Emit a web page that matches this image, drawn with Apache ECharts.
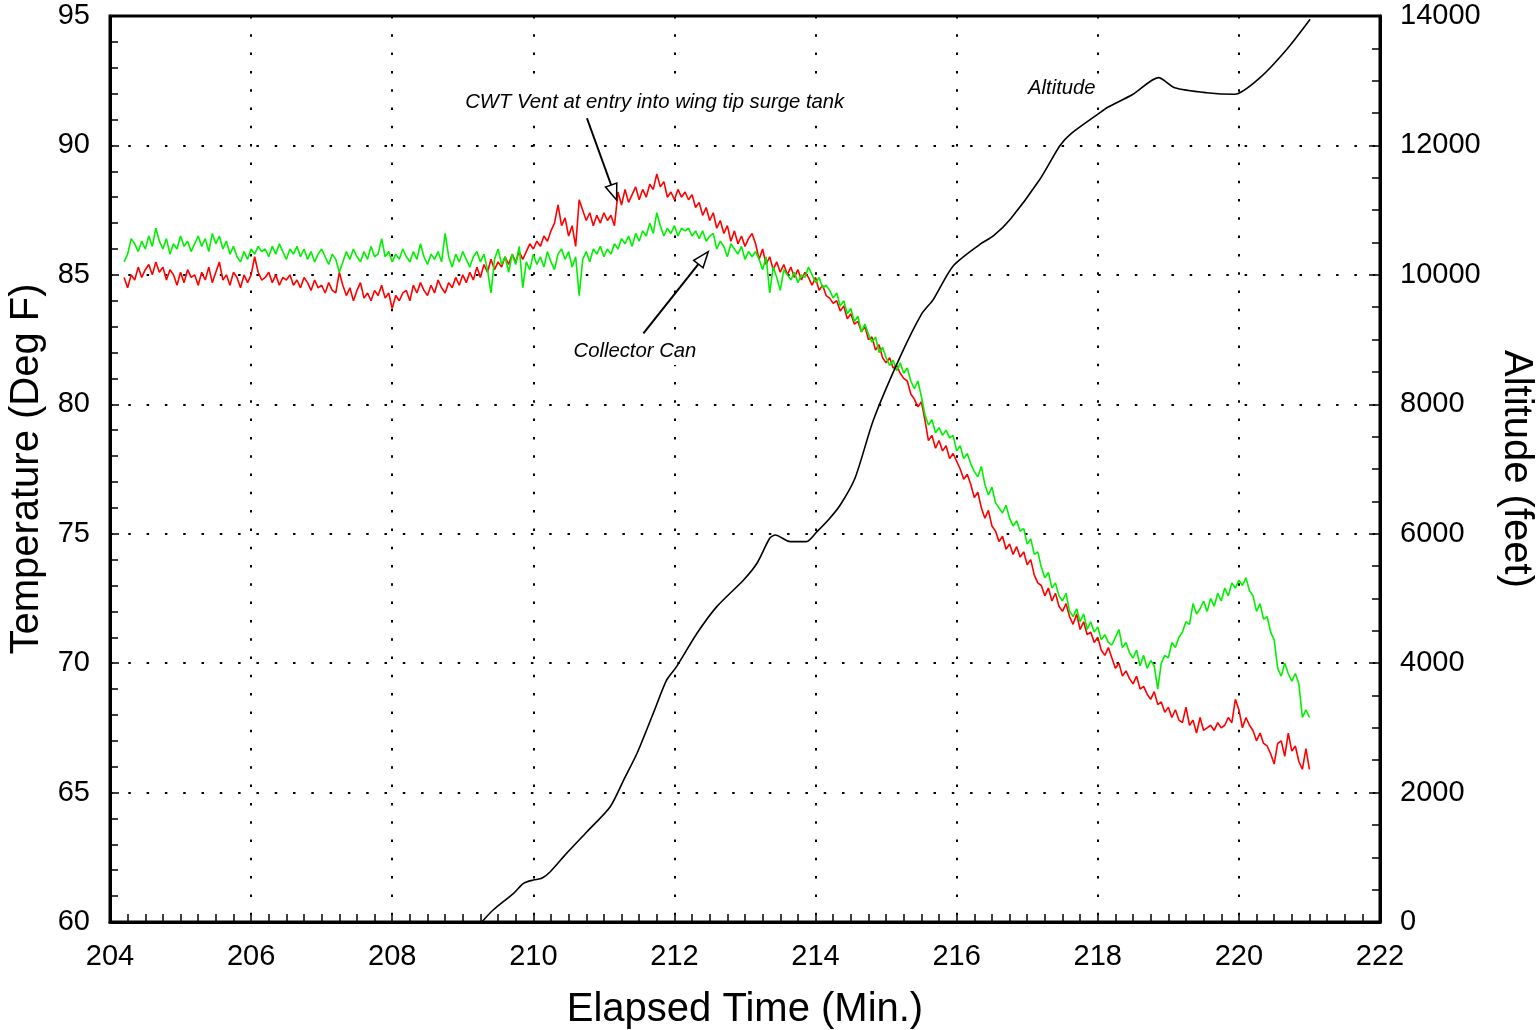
<!DOCTYPE html>
<html><head><meta charset="utf-8">
<script src="https://cdn.jsdelivr.net/npm/echarts@6/dist/echarts.min.js"></script>
<style>html,body{margin:0;padding:0;background:#fff}#c{width:1536px;height:1030px}</style>
</head><body><div id="c"></div>
<script>
// ---- data ----
// temperature samples every 0.05 min starting at 204.20 min
const sampleStart = 204.2;
const sampleStep = 0.05;

// CWT Vent at entry into wing tip surge tank (deg F), one row per minute
const cwtVent = [
  84.9,84.5,85.0,84.8,85.3,84.9,85.2,85.4,85.0,85.5,85.1,85.3,84.8,85.2,85.0,84.6,85.1,84.7,85.2,84.9,
  85.0,84.6,85.1,84.8,85.3,84.7,85.1,85.5,84.8,85.0,84.6,85.1,84.9,84.5,85.0,84.7,85.0,85.7,85.1,84.8,
  84.9,85.1,84.7,85.0,84.6,84.9,84.8,85.0,84.6,84.8,84.5,84.9,84.7,84.4,84.8,84.5,84.6,84.3,84.7,84.4,
  84.3,85.1,84.6,84.2,84.5,84.0,84.4,84.7,84.1,84.3,84.0,84.4,84.2,84.6,84.1,84.3,83.7,84.2,84.0,84.3,
  84.4,84.0,84.6,84.3,84.7,84.4,84.2,84.6,84.3,84.8,84.5,84.3,84.7,84.5,84.9,84.6,85.0,84.7,85.1,84.8,
  85.3,84.9,85.4,85.1,85.6,85.2,85.5,85.3,85.7,85.4,85.8,85.5,85.9,85.6,85.9,86.2,86.0,86.3,86.1,86.5,
  86.3,86.7,87.0,87.7,86.9,87.2,86.5,86.9,86.1,87.9,87.5,87.1,87.4,86.9,87.3,87.0,87.4,87.1,87.3,86.9,
  88.2,87.7,88.3,87.8,88.1,88.4,87.9,88.3,88.0,88.5,88.3,88.9,88.4,88.6,88.0,88.2,87.9,88.3,88.0,88.2,
  87.9,88.1,87.6,87.8,87.3,87.6,87.1,87.4,86.8,87.1,86.6,86.9,86.3,86.7,86.2,86.5,86.1,86.4,86.6,86.2,
  85.6,86.0,85.4,85.7,85.2,85.5,85.1,85.4,85.0,85.3,84.9,85.2,84.8,85.1,84.9,84.6,84.9,84.4,84.6,84.2,
  84.1,83.9,84.0,83.6,83.8,83.3,83.5,83.1,83.2,82.8,83.0,82.5,82.6,82.1,82.3,81.8,81.6,81.8,81.4,81.5,
  81.2,81.0,80.9,80.4,80.2,79.9,80.1,79.4,78.6,78.8,78.3,78.6,78.2,78.4,77.9,78.1,77.8,77.5,77.1,77.3,
  76.9,76.4,76.6,76.0,75.6,75.9,75.3,75.1,74.7,74.9,74.4,74.6,74.2,74.5,74.1,74.3,73.8,74.0,73.4,73.1,
  73.0,72.6,72.9,72.4,72.7,72.2,72.0,72.3,71.8,71.5,71.9,71.3,71.6,71.1,71.2,70.8,71.0,70.5,70.3,70.6,
  70.2,69.8,70.0,69.5,69.7,69.4,69.2,69.5,69.0,69.1,68.8,68.6,68.9,68.4,68.5,68.1,68.3,67.9,68.2,67.8,
  67.7,68.3,67.6,67.8,67.3,67.9,67.4,67.5,67.6,67.4,67.7,67.5,67.6,67.9,67.7,68.6,68.2,67.5,67.9,67.6,
  67.4,67.0,67.3,66.9,66.8,66.5,66.1,66.9,67.0,66.4,67.3,66.6,66.8,66.2,65.9,66.7,65.9
];

// Collector Can (deg F)
const collectorCan = [
  85.5,85.8,86.4,86.2,85.9,86.3,86.0,86.5,86.1,86.8,86.3,86.0,86.4,85.8,86.2,86.0,86.5,86.1,86.3,85.9,
  86.2,86.5,86.1,86.4,85.9,86.6,86.2,86.5,86.0,86.3,85.8,86.1,85.7,85.5,85.9,85.6,86.0,85.8,86.1,85.9,
  86.0,85.7,86.1,85.8,86.2,85.9,85.6,86.0,85.8,86.1,85.7,86.0,85.6,85.9,85.5,85.8,86.0,85.7,85.4,85.8,
  85.6,85.1,85.5,85.9,85.6,86.0,85.7,85.5,85.9,85.6,86.1,85.7,85.8,86.4,85.7,85.9,85.5,85.8,85.6,86.0,
  85.7,85.5,85.9,85.6,86.2,85.7,85.4,85.8,85.6,85.9,85.5,86.6,85.7,85.3,85.8,85.5,85.9,85.6,85.3,85.7,
  85.9,85.5,85.8,85.2,84.3,85.6,86.0,85.4,85.7,85.1,85.8,85.4,86.1,84.5,85.5,85.2,85.8,85.4,85.7,85.3,
  85.9,85.5,85.2,85.8,86.0,85.6,85.9,85.3,85.7,84.2,85.6,85.9,85.5,86.0,85.8,86.1,85.7,86.0,85.8,86.2,
  86.0,86.4,86.2,86.5,86.1,86.6,86.3,86.7,86.5,87.0,86.6,87.4,86.9,86.5,86.8,86.6,86.9,86.5,86.8,86.7,
  86.8,86.5,86.7,86.4,86.7,86.3,86.5,86.6,86.0,86.3,86.1,85.7,86.2,86.0,85.8,86.1,85.6,85.9,85.7,85.9,
  85.6,85.2,85.7,84.3,85.3,84.9,84.4,85.2,85.0,84.8,85.1,84.7,85.0,84.9,85.3,85.0,84.7,84.9,84.5,84.6,
  84.4,84.1,84.3,83.8,84.0,83.5,83.7,83.2,83.4,82.8,83.1,82.7,82.4,82.6,82.0,82.2,81.8,81.5,81.7,81.3,
  81.6,81.2,81.4,80.9,80.6,80.9,80.3,79.6,79.2,79.4,78.9,79.1,78.8,79.0,78.7,78.8,78.2,78.4,77.9,78.1,
  77.7,77.4,77.2,77.6,76.9,76.5,76.8,76.2,76.0,75.8,76.1,75.6,75.3,75.5,75.1,75.2,74.6,74.8,74.2,74.3,
  73.7,73.3,73.5,72.9,73.1,72.6,72.4,72.7,72.0,71.8,72.1,71.6,71.9,71.3,71.6,71.2,71.4,70.9,71.1,70.8,
  70.7,71.0,71.3,70.6,70.8,70.4,70.2,70.5,69.9,70.3,69.8,70.1,69.9,69.0,70.0,70.3,70.2,70.8,70.6,71.0,
  71.2,71.6,71.5,72.3,71.9,72.1,72.4,72.0,72.5,72.2,72.7,72.4,72.9,72.6,73.1,72.9,73.2,73.0,73.3,72.8,
  72.6,72.0,72.3,71.7,71.8,71.2,70.9,69.8,69.5,70.0,69.6,69.3,69.6,69.2,67.9,68.2,67.9
];

// Altitude (feet) vs elapsed time (min)
const altTime = [209.27,209.43,209.72,209.86,210.00,210.12,210.24,210.47,210.76,211.09,211.28,211.47,211.70,211.89,212.03,212.32,212.60,212.98,213.17,213.35,213.43,213.64,213.87,214.02,214.18,214.35,214.56,214.82,215.20,215.50,215.67,215.95,216.33,216.52,216.76,217.18,217.46,217.61,218.03,218.13,218.50,218.86,219.09,219.54,219.94,220.30,220.68,221.01];
const altitude = [0,185,443,598,649,675,777,1060,1395,1782,2194,2607,3225,3740,3946,4461,4873,5285,5543,5929,5980,5877,5877,6032,6212,6444,6861,7757,8736,9390,9622,10137,10472,10601,10859,11477,11992,12172,12506,12583,12790,13047,12892,12815,12790,13047,13485,13949];

// annotations (anchored in time / deg F)
const annotationTexts = ['CWT Vent at entry into wing tip surge tank', 'Collector Can', 'Altitude'];
const annotationAt = [[211.72, 91.68], [211.44, 82.06], [217.49, 92.22]];
const arrowFrom = [[210.76, 91.05], [211.56, 82.74]];
const arrowTo = [[211.18, 87.89], [212.48, 85.90]];

// ---- chart ----
const FONT = '"Liberation Sans", Arial, Helvetica, sans-serif';
const sampleTimes = cwtVent.map((_, i) => +(sampleStart + i * sampleStep).toFixed(2));
const pair = (xs, ys) => ys.map((v, i) => [xs[i], v]);

const chart = echarts.init(document.getElementById('c'), null, {renderer: 'canvas'});
const dotted = {color: '#000', width: 2, type: [2.5, 15.8]};
const tickStyle = {color: '#000', width: 1.5};

chart.setOption({
  animation: false,
  backgroundColor: '#fff',
  grid: {left: 110, right: 156, top: 16, bottom: 108, containLabel: false, outerBoundsMode: 'none',
         show: true, borderColor: '#000', borderWidth: 3, backgroundColor: 'transparent'},
  xAxis: {
    type: 'value', min: 204, max: 222, interval: 2,
    name: 'Elapsed Time (Min.)', nameLocation: 'middle', nameGap: 68,
    nameTextStyle: {fontSize: 40, color: '#000', fontFamily: FONT},
    axisLine: {show: true, onZero: false, lineStyle: {color: '#000', width: 3}},
    axisTick: {show: true, inside: true, length: 9, lineStyle: tickStyle},
    minorTick: {show: true, splitNumber: 8, length: 8, lineStyle: tickStyle},
    axisLabel: {fontSize: 29, color: '#000', margin: 20, fontFamily: FONT},
    splitLine: {show: true, lineStyle: dotted}
  },
  yAxis: [{
    type: 'value', min: 60, max: 95, interval: 5, position: 'left',
    name: 'Temperature (Deg F)', nameLocation: 'middle', nameGap: 62, nameRotate: 90,
    nameTextStyle: {fontSize: 40, color: '#000', fontFamily: FONT},
    axisLine: {show: true, onZero: false, lineStyle: {color: '#000', width: 3}},
    axisTick: {show: true, inside: true, length: 9, lineStyle: tickStyle},
    minorTick: {show: true, splitNumber: 5, length: 8, lineStyle: tickStyle},
    axisLabel: {fontSize: 29, color: '#000', margin: 20, fontFamily: FONT},
    splitLine: {show: true, lineStyle: dotted}
  }, {
    type: 'value', min: 0, max: 14000, interval: 2000, position: 'right',
    name: 'Altitude (feet)', nameLocation: 'middle', nameGap: 116, nameRotate: -90,
    nameTextStyle: {fontSize: 40, color: '#000', fontFamily: FONT},
    axisLine: {show: true, onZero: false, lineStyle: {color: '#000', width: 3}},
    axisTick: {show: true, inside: true, length: 11, lineStyle: tickStyle},
    minorTick: {show: true, splitNumber: 4, length: 8, lineStyle: tickStyle},
    axisLabel: {fontSize: 29, color: '#000', margin: 20, fontFamily: FONT, formatter: v => String(v)},
    splitLine: {show: false}
  }],
  series: [{
    name: 'CWT Vent', type: 'line', showSymbol: false, symbol: 'none',
    data: pair(sampleTimes, cwtVent), lineStyle: {color: '#ff0000', width: 1.6}, z: 2
  }, {
    name: 'Collector Can', type: 'line', showSymbol: false, symbol: 'none',
    data: pair(sampleTimes, collectorCan), lineStyle: {color: '#00f000', width: 1.6}, z: 3
  }, {
    name: 'Altitude', type: 'line', yAxisIndex: 1, showSymbol: false, symbol: 'none', smooth: 0.25,
    data: pair(altTime, altitude), lineStyle: {color: '#000', width: 1.6}, z: 4
  }]
});

function px(p) { return chart.convertToPixel({xAxisIndex: 0, yAxisIndex: 0}, p); }
const graphics = [];
annotationTexts.forEach((t, i) => {
  const p = px(annotationAt[i]);
  graphics.push({type: 'text', x: p[0], y: p[1], z: 100,
    style: {text: t, font: 'italic 20.3px ' + FONT, fill: '#000', align: 'center', verticalAlign: 'middle',
            backgroundColor: '#fff', padding: [4, 5]}});
});
arrowFrom.forEach((f, i) => {
  const a = px(f), b = px(arrowTo[i]);
  const dx = b[0] - a[0], dy = b[1] - a[1], L = Math.hypot(dx, dy), ux = dx / L, uy = dy / L;
  const hl = 16, hw = 6;
  const bx = b[0] - ux * hl, by = b[1] - uy * hl;
  graphics.push({type: 'line', z: 100, shape: {x1: a[0], y1: a[1], x2: bx, y2: by}, style: {stroke: '#000', lineWidth: 2}});
  graphics.push({type: 'polygon', z: 100, shape: {points: [[b[0], b[1]], [bx - uy * hw, by + ux * hw], [bx + uy * hw, by - ux * hw]]},
    style: {fill: '#fff', stroke: '#000', lineWidth: 1.5}});
});
chart.setOption({graphic: graphics});
</script></body></html>
